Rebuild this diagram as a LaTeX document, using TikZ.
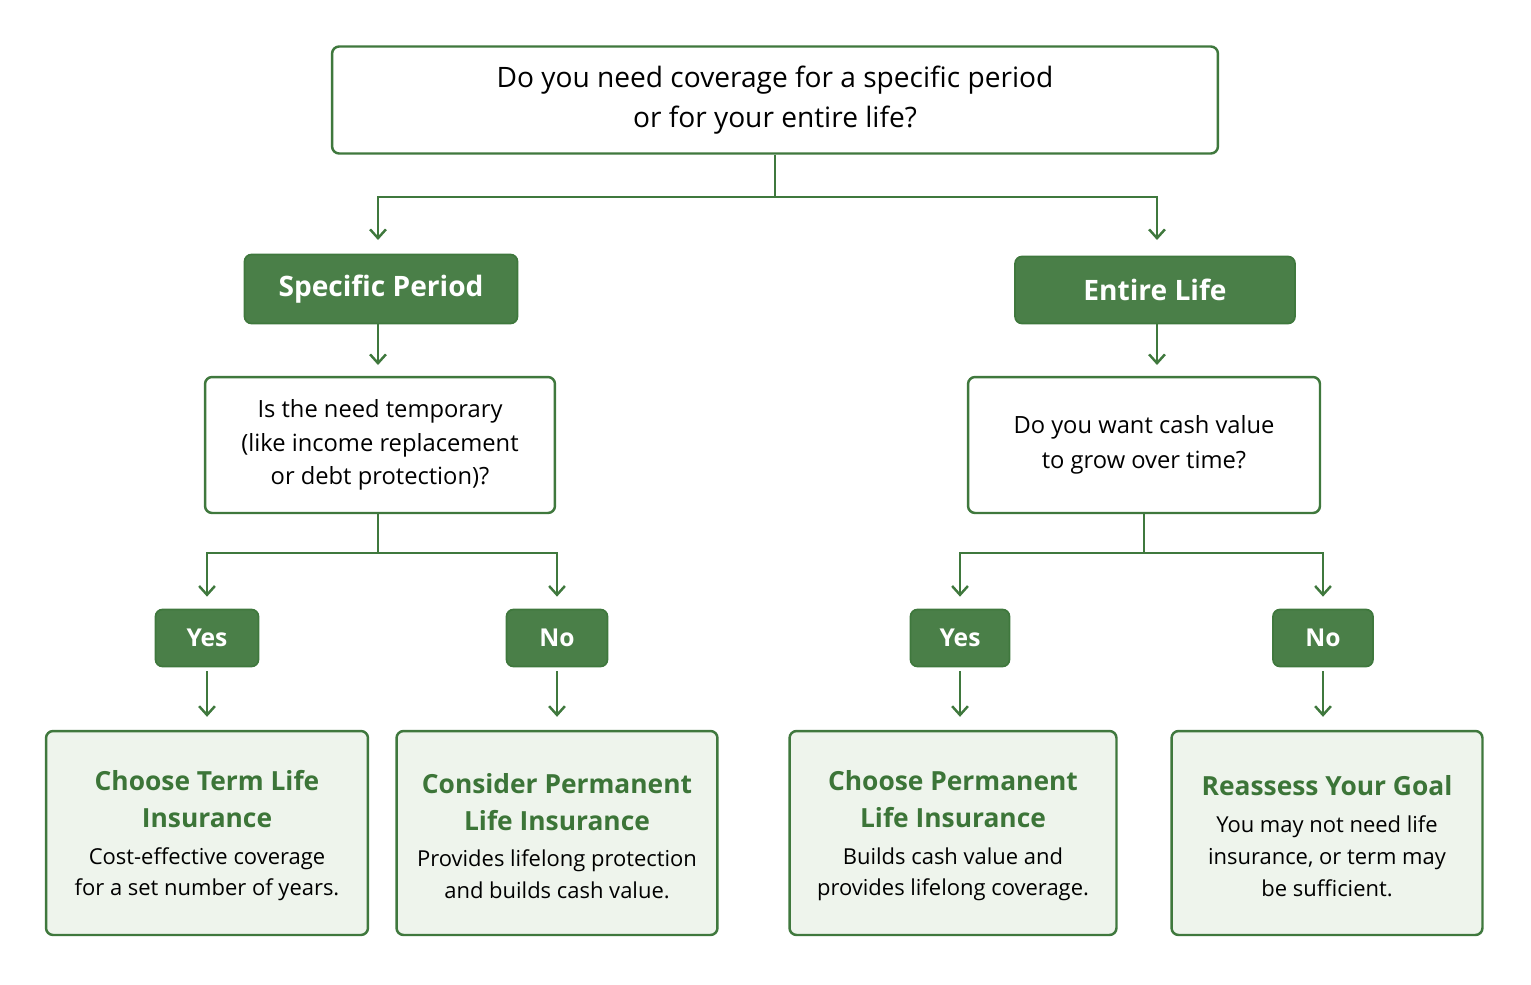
\documentclass[tikz,border=0pt]{standalone}
\usepackage{fontspec}
\setmainfont{Open Sans}
\usetikzlibrary{arrows.meta}
\definecolor{leaf}{HTML}{4A7F48}
\definecolor{edge}{HTML}{3F783D}
\definecolor{pale}{HTML}{EEF4EC}
\definecolor{ink}{HTML}{3C7538}
\tikzset{
  question/.style={draw=edge, line width=1.4pt, rounded corners=4pt, fill=white, align=center,
    font=\fontsize{14}{21}\selectfont},
  branch/.style={draw=edge, line width=1pt, rounded corners=4pt, fill=leaf, text=white,
    font=\fontsize{16}{19}\bfseries\selectfont},
  answer/.style={draw=edge, line width=1pt, rounded corners=4pt, fill=leaf, text=white,
    font=\fontsize{14}{17}\bfseries\selectfont},
  result/.style={draw=edge, line width=1.4pt, rounded corners=4pt, fill=pale, align=center,
    font=\fontsize{12.5}{18}\selectfont},
  arr/.style={draw=edge, line width=1.4pt, -{Straight Barb[length=5pt,width=9pt]}}
}
\newcommand{\restitle}[1]{{\fontsize{15}{21}\bfseries\selectfont\color{ink}%
  \begin{tabular}{@{}c@{}}#1\end{tabular}}}
\begin{document}
\begin{tikzpicture}[x=0.02cm, y=-0.02cm]
  \useasboundingbox (0,0) rectangle (1531,984);
  % questions
  \node[question, minimum width=17.72cm, minimum height=2.14cm, font=\fontsize{16}{23}\selectfont] (top) at (775,100)
    {Do you need coverage for a specific period\\or for your entire life?};
  \node[branch, minimum width=5.46cm, minimum height=1.38cm] (sp) at (381,289) {Specific Period};
  \node[branch, minimum width=5.6cm, minimum height=1.34cm] (el) at (1155,290) {Entire Life};
  \node[question, minimum width=7cm, minimum height=2.72cm, font=\fontsize{13.5}{19}\selectfont] (ql) at (380,445)
    {Is the need temporary\\(like income replacement\\or debt protection)?};
  \node[question, minimum width=7.04cm, minimum height=2.72cm, font=\fontsize{13.5}{20}\selectfont] (qr) at (1144,445)
    {Do you want cash value\\to grow over time?};
  % answers
  \node[answer, minimum width=2.06cm, minimum height=1.14cm] (yl) at (207,638) {Yes};
  \node[answer, minimum width=2.02cm, minimum height=1.14cm] (nl) at (557,638) {No};
  \node[answer, minimum width=1.98cm, minimum height=1.14cm] (yr) at (960,638) {Yes};
  \node[answer, minimum width=2cm, minimum height=1.14cm] (nr) at (1323,638) {No};
  % results
  \node[result, minimum width=6.44cm, minimum height=4.08cm] (term) at (207,833)
    {\restitle{Choose Term Life\\Insurance}\\[4pt]Cost-effective coverage\\for a set number of years.};
  \node[result, minimum width=6.42cm, minimum height=4.08cm] (perm) at (557,833)
    {\restitle{Consider Permanent\\Life Insurance}\\[4pt]Provides lifelong protection\\and builds cash value.};
  \node[result, minimum width=6.54cm, minimum height=4.08cm] (cash) at (953,833)
    {\restitle{Choose Permanent\\Life Insurance}\\[4pt]Builds cash value and\\provides lifelong coverage.};
  \node[result, minimum width=6.22cm, minimum height=4.08cm] (goal) at (1327,833)
    {\restitle{Reassess Your Goal}\\[4pt]You may not need life\\insurance, or term may\\be sufficient.};
  % connectors
  \coordinate (tj) at (775,197);
  \coordinate (lj) at (378,553);
  \coordinate (rj) at (1144,553);
  \coordinate (spin) at (378,240);
  \coordinate (elin) at (1157,240);
  \coordinate (spout) at (378,323);
  \coordinate (qlin) at (378,365);
  \coordinate (qlout) at (378,513);
  \coordinate (elout) at (1157,323);
  \coordinate (qrin) at (1157,365);
  \draw[edge, line width=1.4pt] (top.south) -- (tj);
  \draw[arr] (tj) -| (spin);
  \draw[arr] (tj) -| (elin);
  \draw[arr] (spout) -- (qlin);
  \draw[arr] (elout) -- (qrin);
  \draw[edge, line width=1.4pt] (qlout) -- (lj);
  \draw[edge, line width=1.4pt] (qr.south) -- (rj);
  \draw[arr] (lj) -| ([yshift=0.24cm]yl.north);
  \draw[arr] (lj) -| ([yshift=0.24cm]nl.north);
  \draw[arr] (rj) -| ([yshift=0.24cm]yr.north);
  \draw[arr] (rj) -| ([yshift=0.24cm]nr.north);
  \draw[arr] ([yshift=-0.08cm]yl.south) -- ([yshift=0.26cm]yl.south|-term.north);
  \draw[arr] ([yshift=-0.08cm]nl.south) -- ([yshift=0.26cm]nl.south|-perm.north);
  \draw[arr] ([yshift=-0.08cm]yr.south) -- ([yshift=0.26cm]yr.south|-cash.north);
  \draw[arr] ([yshift=-0.08cm]nr.south) -- ([yshift=0.26cm]nr.south|-goal.north);
\end{tikzpicture}
\end{document}
